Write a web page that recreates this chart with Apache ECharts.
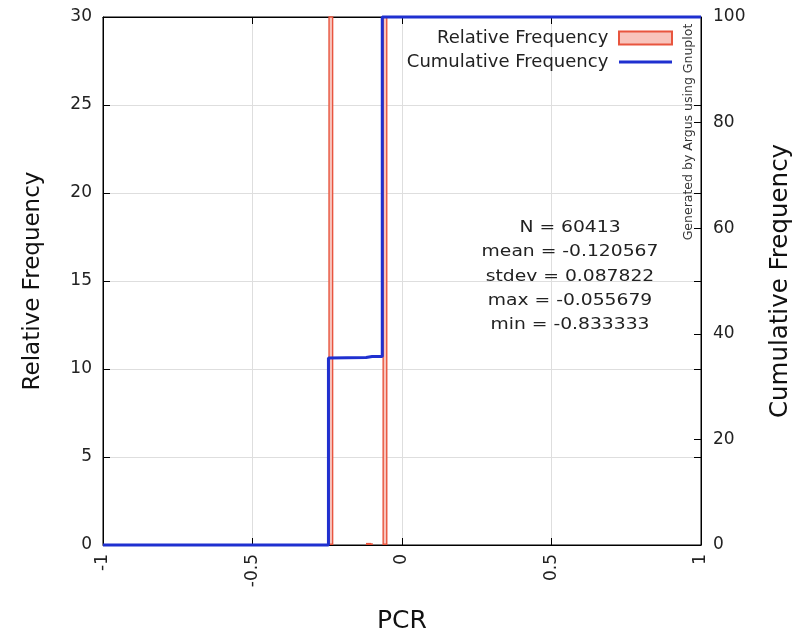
<!DOCTYPE html>
<html><head><meta charset="utf-8">
<script src="https://cdn.jsdelivr.net/npm/echarts@6/dist/echarts.min.js"></script>
<style>html,body{margin:0;padding:0;background:#fff}#c{width:807px;height:630px}</style>
</head><body><div id="c"></div>
<script>
// Histogram bins (bin centres) and relative frequency (%)
const binCenters = [-0.238, -0.112, -0.106, -0.057];
const relFreq = [35.4, 0.12, 0.1, 64.3];
// Cumulative frequency step line (%)
const cumX = [-1, -0.246, -0.246, -0.12, -0.10, -0.066, -0.066, 1];
const cumY = [0, 0, 35.4, 35.5, 35.7, 35.7, 100, 100];
// Axis ranges / tick steps
const xRange = [-1, 1], xStep = 0.5;
const yLeftRange = [0, 30], yLeftStep = 5;
const yRightRange = [0, 100], yRightStep = 20;
const statsLines = ['N = 60413', 'mean = -0.120567', 'stdev = 0.087822', 'max = -0.055679', 'min = -0.833333'];

const FONT = 'DejaVu Sans';
const chart = echarts.init(document.getElementById('c'), null, {renderer: 'canvas'});
const barData = binCenters.map((x, i) => [x, relFreq[i]]);
const cumData = cumX.map((x, i) => [x, cumY[i]]);

const gridCol = '#dedede';
const tickStyle = {show: true, inside: true, length: 7, lineStyle: {color: '#000'}};
const lineStyleAx = {show: true, onZero: false, lineStyle: {color: '#000', width: 1}};
const opt = {
  animation: false,
  backgroundColor: '#fff',
  textStyle: {fontFamily: FONT},
  grid: {left: 103, right: 106, top: 17, bottom: 85, show: true, borderColor: '#000', borderWidth: 1,
    containLabel: false, outerBoundsMode: 'none'},
  legend: {
    orient: 'vertical', align: 'right', right: 129, top: 24,
    itemWidth: 53, itemHeight: 13, itemGap: 6,
    formatter: n => n + ' ',
    textStyle: {fontFamily: FONT, fontSize: 18, color: '#222'},
    data: [
      {name: 'Relative Frequency', icon: 'rect'},
      {name: 'Cumulative Frequency', icon: 'path://M0,0 L53,0 L53,3 L0,3 Z'}
    ]
  },
  xAxis: [{
    type: 'value', min: xRange[0], max: xRange[1], interval: xStep,
    name: 'PCR', nameLocation: 'middle', nameGap: 64,
    nameTextStyle: {fontFamily: FONT, fontSize: 25, color: '#111'},
    axisLine: lineStyleAx, axisTick: tickStyle,
    axisLabel: {rotate: 90, margin: 9, fontSize: 17, color: '#222', fontFamily: FONT,
      formatter: v => String(v)},
    splitLine: {show: true, lineStyle: {color: gridCol, width: 1}}
  }, {
    type: 'value', position: 'top', min: xRange[0], max: xRange[1], interval: xStep,
    axisLine: lineStyleAx, axisTick: tickStyle,
    axisLabel: {show: false}, splitLine: {show: false}
  }],
  yAxis: [{
    type: 'value', min: yLeftRange[0], max: yLeftRange[1], interval: yLeftStep, position: 'left',
    name: 'Relative Frequency', nameLocation: 'middle', nameGap: 58, nameRotate: 90,
    nameTextStyle: {fontFamily: FONT, fontSize: 23, color: '#111'},
    axisLine: lineStyleAx, axisTick: tickStyle,
    axisLabel: {margin: 11, fontSize: 17, color: '#222', fontFamily: FONT},
    splitLine: {show: true, lineStyle: {color: gridCol, width: 1}}
  }, {
    type: 'value', min: yRightRange[0], max: yRightRange[1], interval: yRightStep, position: 'right',
    name: 'Cumulative Frequency', nameLocation: 'middle', nameGap: 67, nameRotate: 90,
    nameTextStyle: {fontFamily: FONT, fontSize: 24.5, color: '#111'},
    axisLine: lineStyleAx, axisTick: tickStyle,
    axisLabel: {margin: 12, fontSize: 17, color: '#222', fontFamily: FONT},
    splitLine: {show: false}
  }, {
    type: 'value', min: yLeftRange[0], max: yLeftRange[1], interval: yLeftStep, position: 'right', offset: 0,
    axisLine: {show: false, onZero: false}, axisTick: tickStyle,
    axisLabel: {show: false}, splitLine: {show: false}
  }],
  series: [{
    name: 'Relative Frequency', type: 'bar', xAxisIndex: 0, yAxisIndex: 0,
    data: barData, barWidth: 5, clip: true,
    itemStyle: {color: '#f8c4bc', borderColor: '#e8553e', borderWidth: 1.4}
  }, {
    name: 'Cumulative Frequency', type: 'line', xAxisIndex: 0, yAxisIndex: 1,
    data: cumData, symbol: 'none', showSymbol: false, clip: false, z: 5,
    lineStyle: {color: '#1f30d0', width: 3}, itemStyle: {color: '#1f30d0'}
  }],
  graphic: [
    ...statsLines.map((t, i) => ({
      type: 'text', x: 570, y: 228 + i * 24.2, scaleX: 1.17, z: 10,
      style: {text: t, x: 0, y: 0, align: 'center', verticalAlign: 'middle',
        font: '16px "' + FONT + '"', fill: '#222'}
    })),
    {type: 'text', x: 689, y: 132, rotation: Math.PI / 2, z: 10,
      style: {text: 'Generated by Argus using Gnuplot', align: 'center', verticalAlign: 'middle',
        font: '12.5px "' + FONT + '"', fill: '#333'}}
  ]
};
chart.setOption(opt);
</script></body></html>
